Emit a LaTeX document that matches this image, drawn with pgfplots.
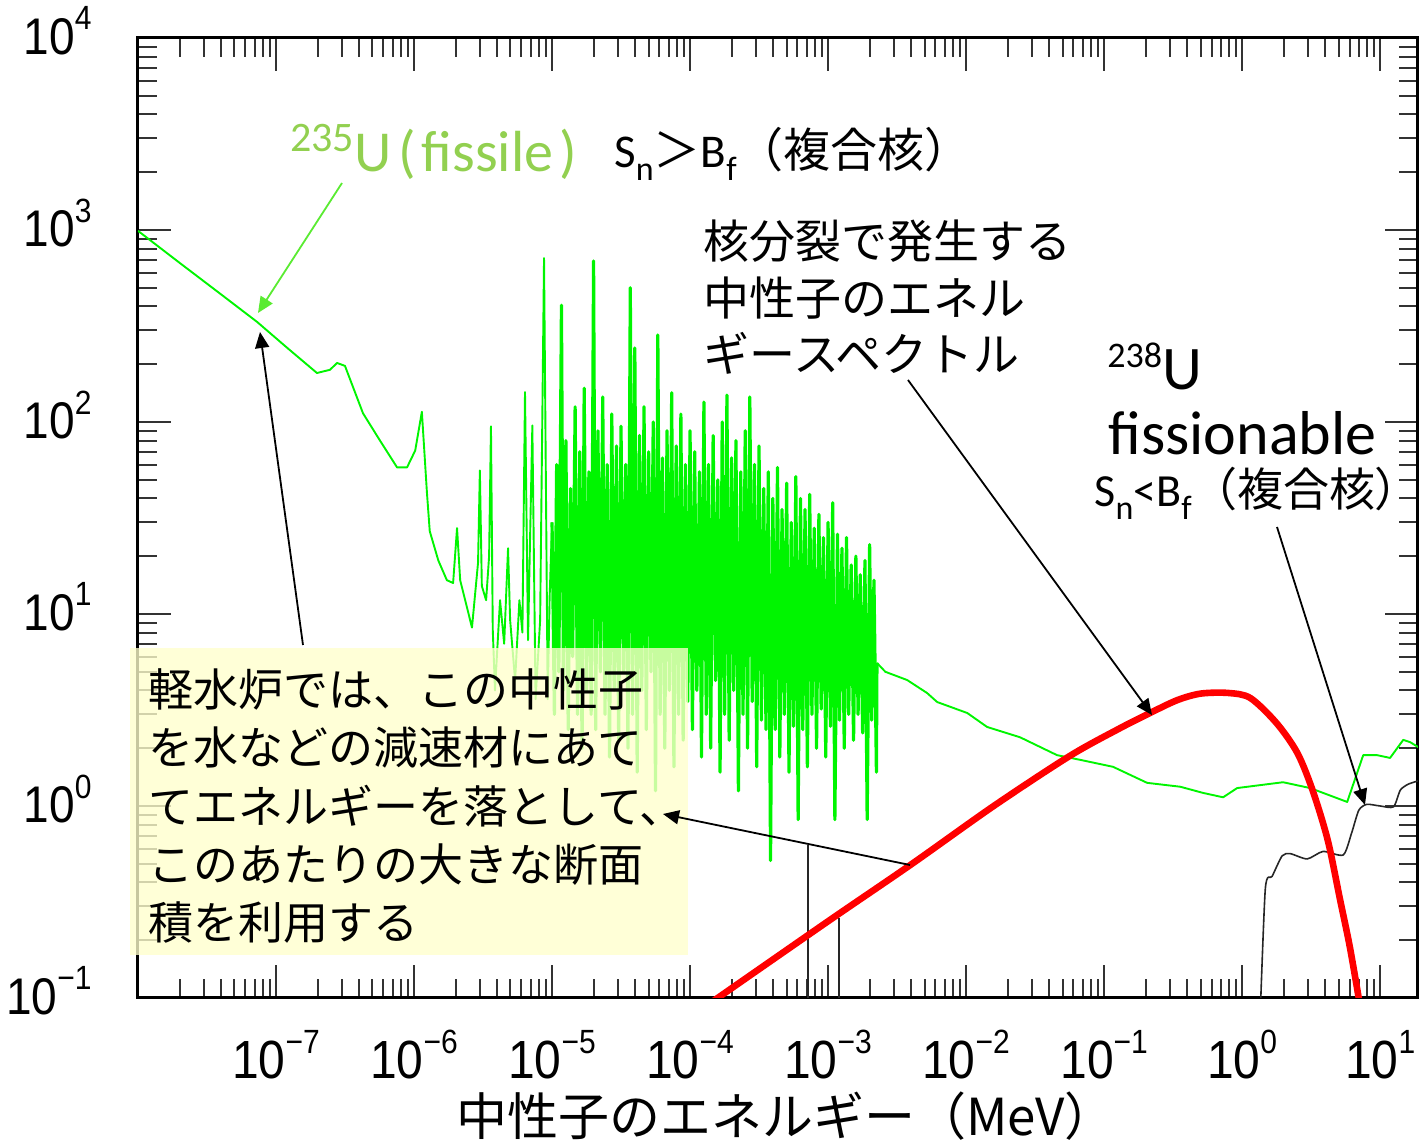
\documentclass[border=0pt]{standalone}
\usepackage{fontspec}
\setmainfont{Carlito}
\newfontfamily\jp{Noto Sans CJK JP}
\newfontfamily\jpp[RawFeature=+palt]{Noto Sans CJK JP}
\newfontfamily\hv{Liberation Sans}
\usepackage{graphicx}
\usepackage{pgfplots}
\pgfplotsset{compat=1.18}
\usepackage{pgfplotstable}
\usetikzlibrary{arrows.meta}
\definecolor{lgreen}{RGB}{146,208,80}
\definecolor{curvegreen}{RGB}{0,245,0}
\definecolor{arrowgreen}{RGB}{90,235,50}
\definecolor{boxyellow}{RGB}{255,255,204}
\newcommand{\tl}[1]{\scalebox{1}[1.12]{10\raisebox{11pt}{\fontsize{15}{15}\selectfont #1}}}

% 235U fission cross section, thermal / low-resonance part
\pgfplotstableread{
E s
1e-8 990
2e-8 675
4e-8 462
7.3e-8 332
1.2e-7 244
1.98e-7 180
2.46e-7 187
2.77e-7 203
3.16e-7 196
4.27e-7 111
5.67e-7 80
7.54e-7 58
8.9e-7 58
1.02e-6 71
1.14e-6 113
1.24e-6 43
1.3e-6 27
1.5e-6 19
1.73e-6 15
1.92e-6 14.5
2.05e-6 28
2.16e-6 15
2.63e-6 8.5
2.91e-6 18.5
3.0e-6 56
3.1e-6 14
3.33e-6 11.8
3.5e-6 20
3.61e-6 95
3.72e-6 8.3
3.86e-6 4.0
4.2e-6 11.8
4.5e-6 7
4.8e-6 22
4.97e-6 9.3
5.4e-6 4.5
5.8e-6 11.8
6.1e-6 8
6.37e-6 143
6.7e-6 7.3
7.2e-6 96
7.6e-6 3.6
8.2e-6 9.3
8.75e-6 714
9.3e-6 3.6
9.6e-6 12
1.00e-5 30
}\greenlow

% dense resolved-resonance region
\pgfplotstableread{
E s
1.00e-5 30
1.04e-5 3
1.08e-5 60
1.12e-5 5
1.17e-5 406
1.21e-5 4
1.26e-5 80
1.31e-5 2.5
1.36e-5 45
1.41e-5 6
1.47e-5 120
1.53e-5 3
1.59e-5 70
1.65e-5 2
1.71e-5 150
1.78e-5 4
1.85e-5 55
1.92e-5 3
2.00e-5 690
2.07e-5 2.5
2.15e-5 90
2.24e-5 5
2.33e-5 135
2.42e-5 3
2.51e-5 60
2.61e-5 1.8
2.71e-5 110
2.82e-5 4
2.93e-5 75
3.04e-5 2.2
3.16e-5 95
3.29e-5 5
3.42e-5 60
3.55e-5 2
3.69e-5 500
3.83e-5 3
3.98e-5 243
4.14e-5 1.5
4.30e-5 85
4.47e-5 4
4.64e-5 120
4.82e-5 2.5
5.01e-5 70
5.21e-5 5
5.41e-5 100
5.62e-5 1.2
5.84e-5 284
6.07e-5 3
6.31e-5 65
6.56e-5 2
6.81e-5 90
7.08e-5 4
7.36e-5 142
7.64e-5 1.6
7.94e-5 75
8.25e-5 3
8.58e-5 110
8.91e-5 2.2
9.26e-5 60
9.62e-5 3.5
1.00e-4 90
1.04e-4 2.5
1.08e-4 70
1.12e-4 4
1.17e-4 55
1.21e-4 1.8
1.26e-4 127
1.31e-4 3
1.36e-4 60
1.41e-4 2
1.47e-4 85
1.53e-4 4.5
1.59e-4 50
1.65e-4 1.5
1.71e-4 100
1.78e-4 3
1.85e-4 138
1.92e-4 2.2
2.00e-4 65
2.07e-4 4
2.15e-4 80
2.24e-4 1.2
2.33e-4 55
2.42e-4 3
2.51e-4 90
2.61e-4 2
2.71e-4 135
2.82e-4 3.5
2.93e-4 60
3.04e-4 1.6
3.16e-4 75
3.29e-4 2.8
3.42e-4 45
3.55e-4 2.5
3.69e-4 55
3.83e-4 0.52
3.98e-4 40
4.14e-4 2.5
4.30e-4 58
4.47e-4 1.8
4.64e-4 35
4.82e-4 3
5.01e-4 48
5.21e-4 1.5
5.41e-4 30
5.62e-4 2.6
5.84e-4 52
6.07e-4 0.85
6.31e-4 40
6.56e-4 2.5
6.81e-4 35
7.08e-4 1.6
7.36e-4 42
7.64e-4 3
7.94e-4 28
8.25e-4 2
8.58e-4 33
8.91e-4 3.2
9.26e-4 25
9.62e-4 1.8
1.00e-3 30
1.04e-3 2.6
1.08e-3 38
1.12e-3 0.85
1.17e-3 26
1.21e-3 2.8
1.26e-3 22
1.31e-3 2
1.36e-3 25
1.41e-3 3
1.47e-3 18
1.53e-3 2.2
1.59e-3 20
1.65e-3 3
1.71e-3 16
1.78e-3 2.4
1.85e-3 19
1.92e-3 0.85
2.00e-3 23
2.07e-3 2.8
2.15e-3 15
2.24e-3 1.5
2.26e-3 5.56
}\greendense

% unresolved / fast region
\pgfplotstableread{
E s
2.26e-3 5.56
2.6e-3 5.0
3.74e-3 4.53
5.21e-3 3.88
6.17e-3 3.48
1.02e-2 3.05
1.42e-2 2.58
2.46e-2 2.28
4.56e-2 1.84
6.7e-2 1.74
0.116 1.6
0.205 1.32
0.356 1.26
0.521 1.17
0.728 1.11
0.92 1.24
1.98 1.33
3.11 1.24
5.77 1.05
7.54 1.84
9.5 1.84
11.8 1.78
14.7 2.21
16.5 2.15
19 2.02
}\greentail

\begin{document}
\begin{tikzpicture}
\path[use as bounding box] (-69pt,-71.5pt) rectangle (641.5pt,499pt);
\begin{axis}[
  at={(0pt,0pt)}, anchor=south west,
  scale only axis, width=640pt, height=480pt,
  xmode=log, ymode=log,
  xmin=1e-8, xmax=18.8, ymin=0.1, ymax=1e4,
  xtick={1e-8,1e-7,1e-6,1e-5,1e-4,1e-3,1e-2,1e-1,1,10},
  xticklabels={{},\tl{−7},\tl{−6},\tl{−5},\tl{−4},\tl{−3},\tl{−2},\tl{−1},\tl{0},\tl{1}},
  ytick={0.1,1,10,100,1000,10000},
  yticklabels={\tl{−1},\tl{0},\tl{1},\tl{2},\tl{3},\tl{4}},
  minor xtick={2e-8,3e-8,4e-8,5e-8,6e-8,7e-8,8e-8,9e-8,
    2e-7,3e-7,4e-7,5e-7,6e-7,7e-7,8e-7,9e-7,
    2e-6,3e-6,4e-6,5e-6,6e-6,7e-6,8e-6,9e-6,
    2e-5,3e-5,4e-5,5e-5,6e-5,7e-5,8e-5,9e-5,
    2e-4,3e-4,4e-4,5e-4,6e-4,7e-4,8e-4,9e-4,
    2e-3,3e-3,4e-3,5e-3,6e-3,7e-3,8e-3,9e-3,
    2e-2,3e-2,4e-2,5e-2,6e-2,7e-2,8e-2,9e-2,
    0.2,0.3,0.4,0.5,0.6,0.7,0.8,0.9,
    2,3,4,5,6,7,8,9},
  minor ytick={0.2,0.3,0.4,0.5,0.6,0.7,0.8,0.9,
    2,3,4,5,6,7,8,9,
    20,30,40,50,60,70,80,90,
    200,300,400,500,600,700,800,900,
    2000,3000,4000,5000,6000,7000,8000,9000},
  tick align=inside,
  major tick length=16.5pt, minor tick length=9.5pt,
  tick style={line width=1pt, black!80},
  axis line style={line width=1.5pt},
  xticklabel style={font=\hv\fontsize{24}{24}\selectfont, inner sep=0pt},
  yticklabel style={font=\hv\fontsize{23}{23}\selectfont, inner sep=0pt, yshift=3.5pt},
  xticklabel shift=16pt,
  yticklabel shift=23pt,
]
\addplot[curvegreen, line width=0.95pt, line join=round] table[x=E,y=s] {\greenlow};
\addplot[curvegreen, line width=1.6pt, line join=round] table[x=E,y=s] {\greendense};
\addplot[curvegreen, line width=0.95pt, line join=round] table[x=E,y=s] {\greentail};
\addplot[black!85, line width=0.8pt] coordinates {(7.16e-4,0.05) (7.16e-4,0.627)};
\addplot[black!85, line width=0.8pt] coordinates {(1.2e-3,0.05) (1.2e-3,0.261)};
\addplot[black!85, line width=0.8pt, smooth, tension=0.4] coordinates {
(1.32,0.05) (1.47,0.365) (1.65,0.43) (1.95,0.55) (2.23,0.565) (2.96,0.53)
(3.86,0.58) (5.4,0.556) (6.2,0.72) (7.0,0.95) (8.0,1.02) (10,1.0)
(12.5,0.99) (14,1.21) (16,1.3) (18.8,1.35)};
\addplot[red, line width=3.3pt, smooth, tension=0.5] coordinates {
(1.0e-4,0.079) (1.585e-4,0.1) (1e-3,0.251) (3.98e-3,0.495) (1.585e-2,1.0)
(5.62e-2,1.82) (0.126,2.51) (0.215,3.05) (0.339,3.56) (0.501,3.85)
(0.794,3.88) (1.148,3.65) (1.778,2.70) (2.512,1.89) (3.236,1.21)
(4.169,0.665) (5.129,0.324) (6.026,0.185) (7.08,0.095)};
\end{axis}
\begin{scope}[x=0.5pt,y=-0.5pt,shift={(-69pt,499pt)}]
% yellow note box
\fill[boxyellow, fill opacity=0.78] (130,648) rectangle (688,955);
\begin{scope}[every node/.style={anchor=base west, inner sep=0pt, font=\jp\fontsize{22.5}{22.5}\selectfont}]
\node at (148,707) {軽水炉では、この中性子};
\node at (148,765) {を水などの減速材にあて};
\node at (148,824) {てエネルギーを落として、};
\node at (148,882) {このあたりの大きな断面};
\node at (148,940) {積を利用する};
\end{scope}
\begin{scope}[every node/.style={anchor=base west, inner sep=0pt, font=\jp\fontsize{23}{23}\selectfont}]
\node at (703,259) {核分裂で発生する};
\node at (703,316) {中性子のエネル};
\node at (703,372) {ギースペクトル};
\end{scope}
% 235U label
\node[anchor=base west, inner sep=0pt, text=lgreen, font=\fontsize{29}{29}\selectfont] at (290,172)
  {\raisebox{10pt}{\fontsize{21}{21}\selectfont 235}U\hspace{0.12em}(\hspace{0.1em}fissile\hspace{0.1em})};
\node[anchor=base west, inner sep=0pt, font=\fontsize{23.5}{23.5}\selectfont] at (614,168)
  {S\raisebox{-6.5pt}{\fontsize{17}{17}\selectfont n}{\jp ＞}B\raisebox{-6.5pt}{\fontsize{17}{17}\selectfont f}{\jp （複合核）}};
% 238U label
\node[anchor=base west, inner sep=0pt, font=\fontsize{31}{31}\selectfont] at (1107,390)
  {\raisebox{11pt}{\fontsize{18}{18}\selectfont 238}U};
\node[anchor=base west, inner sep=0pt, font=\fontsize{31}{31}\selectfont] at (1108,455) {fissionable};
\node[anchor=base west, inner sep=0pt, font=\fontsize{23}{23}\selectfont] at (1094,507)
  {S\raisebox{-6.5pt}{\fontsize{17}{17}\selectfont n}<B\raisebox{-6.5pt}{\fontsize{17}{17}\selectfont f}{\jp （複合核}{\jpp ）}};
% x label
\node[anchor=base, inner sep=0pt, font=\jp\fontsize{25.5}{25.5}\selectfont] at (786,1136) {中性子のエネルギー（MeV）};
% arrows
\draw[arrowgreen, line width=0.9pt, -{Triangle[length=8pt,width=7pt]}] (342,183) -- (258,313);
\draw[black, line width=0.9pt, -{Triangle[length=8pt,width=7pt]}] (303,645) -- (260,332);
\draw[black, line width=0.9pt, -{Triangle[length=8pt,width=7pt]}] (908,380) -- (1152,715);
\draw[black, line width=0.9pt, -{Triangle[length=8pt,width=7pt]}] (1277,527) -- (1365,805);
\draw[black, line width=0.9pt, -{Triangle[length=8pt,width=7pt]}] (910,865) -- (663,814);
\end{scope}
\end{tikzpicture}
\end{document}
